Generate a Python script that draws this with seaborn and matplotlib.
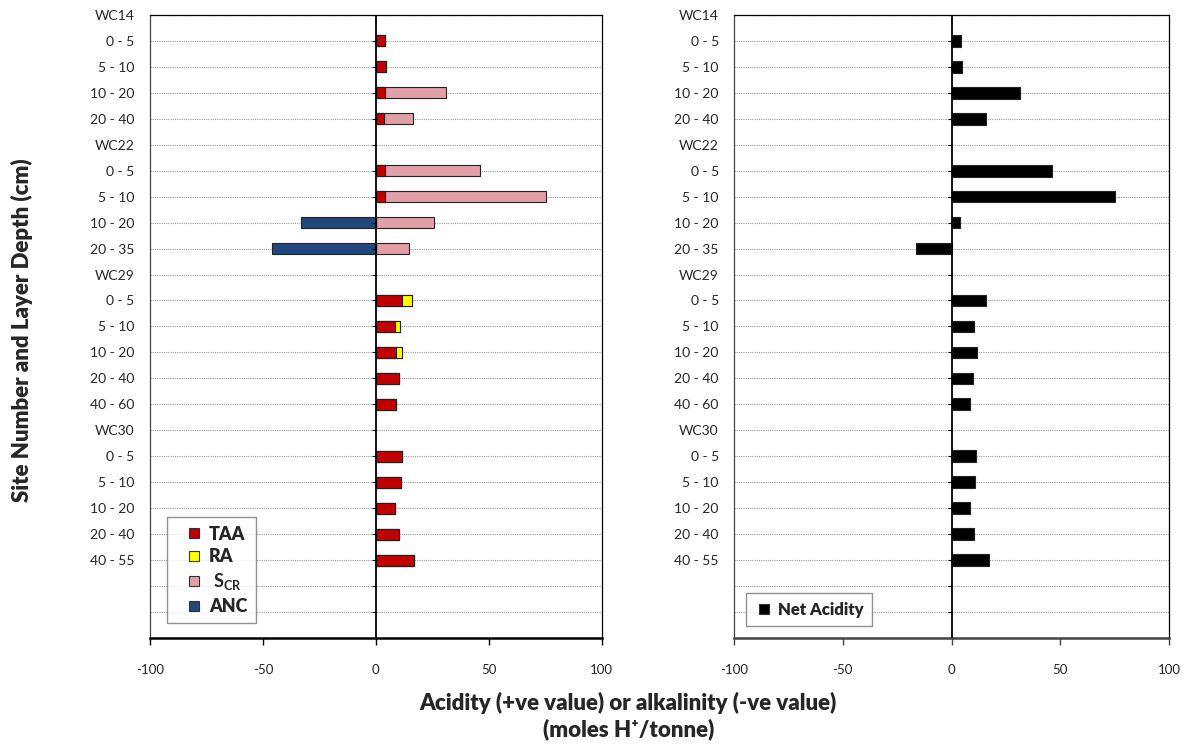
import numpy as np
import pandas as pd
import seaborn as sns
import matplotlib.pyplot as plt
from matplotlib.lines import Line2D

# Data (None = header / blank row)
labels = ['WC14', '0 - 5', '5 - 10', '10 - 20', '20 - 40',
          'WC22', '0 - 5', '5 - 10', '10 - 20', '20 - 35',
          'WC29', '0 - 5', '5 - 10', '10 - 20', '20 - 40', '40 - 60',
          'WC30', '0 - 5', '5 - 10', '10 - 20', '20 - 40', '40 - 55',
          '', '']
taa = [None, 4.2, 4.7, 4.2, 3.7,
       None, 4.2, 4.2, 0, 0,
       None, 11.8, 8.3, 8.8, 10.2, 8.8,
       None, 11.4, 11.1, 8.3, 10.2, 16.9,
       None, None]
ra = [None, 0, 0, 0, 0,
      None, 0, 0, 0, 0,
      None, 4.0, 2.2, 2.6, 0, 0,
      None, 0, 0, 0, 0, 0,
      None, None]
scr = [None, 0, 0, 26.9, 12.6,
       None, 41.8, 71.0, 25.8, 14.6,
       None, 0, 0, 0, 0, 0,
       None, 0, 0, 0, 0, 0,
       None, None]
anc = [None, 0, 0, 0, 0,
       None, 0, 0, -33.2, -45.9,
       None, 0, 0, 0, 0, 0,
       None, 0, 0, 0, 0, 0,
       None, None]
net = [None, 4.5, 5.0, 31.3, 15.9,
       None, 46.2, 74.9, 4.0, -16.2,
       None, 15.9, 10.4, 11.9, 10.0, 8.5,
       None, 11.4, 10.9, 8.5, 10.4, 17.1,
       None, None]

rows = list(range(len(labels)))
df = pd.DataFrame({'row': rows, 'taa': taa, 'ra': ra, 'scr': scr,
                   'anc': anc, 'net': net}).astype(float)
df['row'] = rows
df['taa_ra'] = df['taa'] + df['ra']
df['total'] = df['taa_ra'] + df['scr']

c_taa = '#C00000'
c_ra = '#FFFF00'
c_scr = '#E29FA8'
c_anc = '#1F497D'
c_net = '#000000'

sns.set_style('white')
plt.rcParams['font.family'] = ['Lato', 'DejaVu Sans']
plt.rcParams['mathtext.fontset'] = 'custom'
plt.rcParams['mathtext.bf'] = 'Lato:bold'
plt.rcParams['mathtext.rm'] = 'Lato'

fig = plt.figure(figsize=(11.92, 7.47), dpi=100)
ax1 = fig.add_axes([0.1258, 0.146, 0.379, 0.834])
ax2 = fig.add_axes([0.6158, 0.146, 0.365, 0.834])

bar_kw = dict(y='row', orient='h', order=rows, errorbar=None,
              saturation=1, edgecolor='#222222', linewidth=0.8)

# stacked bars drawn as overlapping cumulative layers
sns.barplot(data=df, x='total', color=c_scr, width=0.42, ax=ax1, **bar_kw)
sns.barplot(data=df, x='taa_ra', color=c_ra, width=0.42, ax=ax1, **bar_kw)
sns.barplot(data=df, x='taa', color=c_taa, width=0.42, ax=ax1, **bar_kw)
sns.barplot(data=df, x='anc', color=c_anc, width=0.42, ax=ax1, **bar_kw)

sns.barplot(data=df, x='net', color=c_net, width=0.45, ax=ax2, **bar_kw)

for ax, spine_col in [(ax1, 'black'), (ax2, '#444444')]:
    ax.set_xlim(-100, 100)
    ax.set_ylim(len(labels), 0)
    ax.set_xticks([-100, -50, 0, 50, 100])
    ax.set_xticklabels(['-100', '-50', '0', '50', '100'], fontsize=9.5)
    ax.set_yticks(rows)
    ax.set_yticklabels(labels, fontsize=10)
    ax.tick_params(axis='y', length=0, pad=11)
    ax.tick_params(axis='x', direction='out', length=5, width=1,
                   color=spine_col, pad=14, bottom=True)
    ax.set_xlabel('')
    ax.set_ylabel('')
    ax.set_axisbelow(True)
    ax.grid(axis='y', color='#9a9a9a', linestyle=(0, (1, 1)), linewidth=0.8)
    ax.grid(axis='x', visible=False)
    ax.axvline(0, color='black', linewidth=1.3, zorder=3)
    ax.plot(np.zeros(len(rows)), rows, ls='none', marker=0, ms=3,
            mew=0.8, color='black', zorder=3)
    for s in ['top', 'right']:
        ax.spines[s].set_color('black')
        ax.spines[s].set_linewidth(0.9)
    ax.spines['left'].set_color('#444444')
    ax.spines['left'].set_linewidth(0.9)
    ax.spines['bottom'].set_color(spine_col)
    ax.spines['bottom'].set_linewidth(1.8)


def square(color, label):
    return Line2D([], [], ls='none', marker='s', ms=7.5, mfc=color,
                  mec='#333333', mew=0.8, label=label)


h1 = [square(c_taa, 'TAA'), square(c_ra, 'RA'),
      square(c_scr, r' $\mathbf{S_{CR}}$'), square(c_anc, 'ANC')]
leg1 = ax1.legend(handles=h1, loc='lower left', bbox_to_anchor=(0.037, 0.024),
                  frameon=True, fancybox=False, edgecolor='#777777',
                  handlelength=2.1, handletextpad=-0.2,
                  labelspacing=0.32, borderpad=0.45, borderaxespad=0,
                  prop={'weight': 'heavy', 'size': 13})
leg1.get_frame().set_linewidth(1.0)

h2 = [square(c_net, 'Net Acidity')]
leg2 = ax2.legend(handles=h2, loc='lower left', bbox_to_anchor=(0.028, 0.019),
                  frameon=True, fancybox=False, edgecolor='#777777',
                  handlelength=1.1, handletextpad=0.3,
                  borderpad=0.5, borderaxespad=0,
                  prop={'weight': 'heavy', 'size': 12})
leg2.get_frame().set_linewidth(1.0)

fig.text(0.0185, 0.558, 'Site Number and Layer Depth (cm)', rotation=90,
         ha='center', va='center', fontsize=16, fontweight='heavy')
fig.text(0.527, 0.0415, 'Acidity (+ve value) or alkalinity (-ve value)\n(moles H\u207a/tonne)',
         ha='center', va='center', fontsize=16, fontweight='heavy',
         linespacing=1.2)

fig.savefig('out.png', dpi=100)
